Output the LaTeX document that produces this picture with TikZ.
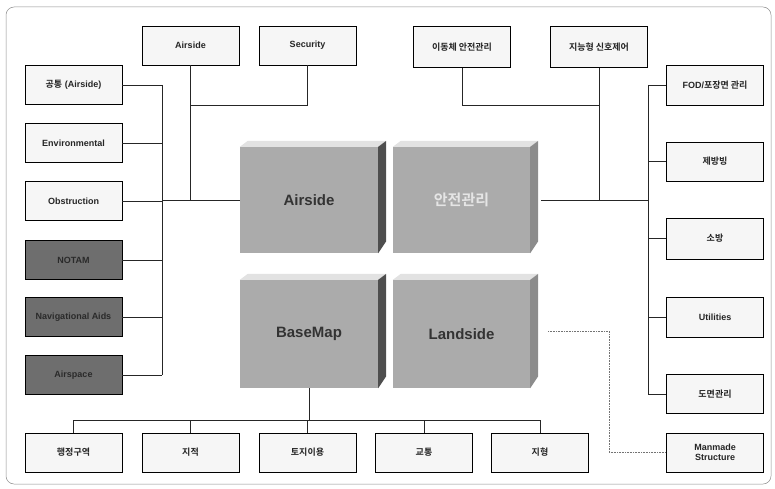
\documentclass[tikz,border=0pt]{standalone}
\usepackage{fontspec}
\setmainfont{Liberation Sans}
\newfontfamily\kr[BoldFont={Noto Sans CJK KR Bold}]{Noto Sans CJK KR}
\definecolor{boxfill}{HTML}{F6F6F6}
\definecolor{darkfill}{HTML}{6E6E6E}
\definecolor{darktext}{HTML}{2A2A2A}
\definecolor{blockgray}{HTML}{ABABAB}
\definecolor{topgray}{HTML}{E2E2E2}
\definecolor{sidedark}{HTML}{4E4E4E}
\definecolor{sidelight}{HTML}{8C8C8C}
\begin{document}
\begin{tikzpicture}[x=1pt,y=-1pt,
  bx/.style={draw=black, line width=0.9pt, fill=boxfill, minimum width=97pt, minimum height=39pt,
    inner sep=0pt, font=\fontsize{9}{10.5}\selectfont\bfseries, align=center, text=black!85},
  dk/.style={bx, fill=darkfill, text=darktext},
  blk/.style={fill=blockgray, minimum width=138pt, minimum height=106pt, inner sep=0pt,
    font=\fontsize{15}{17}\selectfont\bfseries, text=black!80},
  ln/.style={line width=0.7pt, draw=black!85},
  dln/.style={line width=0.6pt, draw=black!55, densely dotted},
  topface/.style={fill=topgray},
  sdark/.style={fill=sidedark},
  slight/.style={fill=sidelight}]
\useasboundingbox (0,0) rectangle (775,489);
\draw[draw=black!45, line width=0.5pt, rounded corners=8pt] (6,7) rectangle (771,484);

% top boxes
\node[bx] (ta) at (190.5,45.5) {Airside};
\node[bx] (ts) at (307.5,45.5) {Security};
\node[bx, minimum height=41pt] (tm) at (462,47) {\kr\bfseries 이동체 안전관리};
\node[bx, minimum height=41pt] (tn) at (599,47) {\kr\bfseries 지능형 신호제어};

% left boxes
\node[bx] (l1) at (73.5,85) {{\kr\bfseries 공통} (Airside)};
\node[bx] (l2) at (73.5,143) {Environmental};
\node[bx] (l3) at (73.5,201) {Obstruction};
\node[dk] (l4) at (73.5,260) {NOTAM};
\node[dk] (l5) at (73.5,317) {Navigational Aids};
\node[dk] (l6) at (73.5,375) {Airspace};

% right boxes
\node[bx, minimum height=40pt] (r1) at (715,85) {FOD/{\kr\bfseries 포장면 관리}};
\node[bx] (r2) at (715,161.5) {\kr\bfseries 제방빙};
\node[bx, minimum height=41pt] (r3) at (715,238.5) {\kr\bfseries 소방};
\node[bx, minimum height=40pt] (r4) at (715,317) {Utilities};
\node[bx] (r5) at (715,394) {\kr\bfseries 도면관리};
\node[bx] (mm) at (715,452.5) {Manmade\\Structure};

% bottom boxes
\node[bx] (b1) at (73.5,452.5) {\kr\bfseries 행정구역};
\node[bx] (b2) at (190.5,452.5) {\kr\bfseries 지적};
\node[bx] (b3) at (307.5,452.5) {\kr\bfseries 토지이용};
\node[bx] (b4) at (424,452.5) {\kr\bfseries 교통};
\node[bx] (b5) at (540,452.5) {\kr\bfseries 지형};

% central blocks
\node[blk] (A) at (309,200) {Airside};
\node[blk, minimum width=137pt, text=white!90!black] (S) at (461.5,200) {\kr\bfseries 안전관리};
\node[blk, minimum height=108pt] (B) at (309,334) {BaseMap};
\node[blk, minimum width=137pt, minimum height=108pt] (L) at (461.5,334) {Landside};

% coordinates
\coordinate (lbt) at (162,85);
\coordinate (lbb) at (162,375);
\coordinate (tj) at (190.5,105);
\coordinate (rj) at (599,105);
\coordinate (rbt) at (648,85);
\coordinate (rbb) at (648,394);
\coordinate (Sr) at (541,200);
\coordinate (Lr) at (548,331);
\coordinate (dx) at (609,331);
\coordinate (bbl) at (73.5,420);
\coordinate (bbr) at (540,420);

% left connectors
\draw[ln] (lbt) -- (lbb);
\foreach \n in {l1,l2,l3,l4,l5,l6} \draw[ln] (\n.east) -- (\n.east -| lbt);
\draw[ln] (A.west -| lbt) -- (A.west);
\draw[ln] (ta.south) -- (ta.south |- A.west);
\draw[ln] (ts.south) |- (tj);

% right connectors
\draw[ln] (tm.south) |- (rj);
\draw[ln] (tn.south) -- (tn.south |- Sr);
\draw[ln] (Sr) -- (Sr -| rbt);
\draw[ln] (rbt) -- (rbb);
\foreach \n in {r1,r2,r3,r4,r5} \draw[ln] (\n.west -| rbt) -- (\n.west);

% landside dotted
\draw[dln] (Lr) -- (dx) |- (mm.west);

% bottom connectors
\draw[ln] (B.south) -- (B.south |- bbl);
\draw[ln] (bbl) -- (bbr);
\foreach \n in {b1,b2,b3,b4,b5} \draw[ln] (\n.north) -- (\n.north |- bbl);

% 3D faces
\foreach \n/\s in {A/sdark,S/slight,B/sdark,L/slight}{
  \fill[topface] (\n.north west) -- ++(8,-6) -- ([shift={(8,-6)}]\n.north east) -- (\n.north east) -- cycle;
  \fill[\s] (\n.north east) -- ++(8,-6) -- ([shift={(8,-12)}]\n.south east) -- (\n.south east) -- cycle;
}
\end{tikzpicture}
\end{document}
